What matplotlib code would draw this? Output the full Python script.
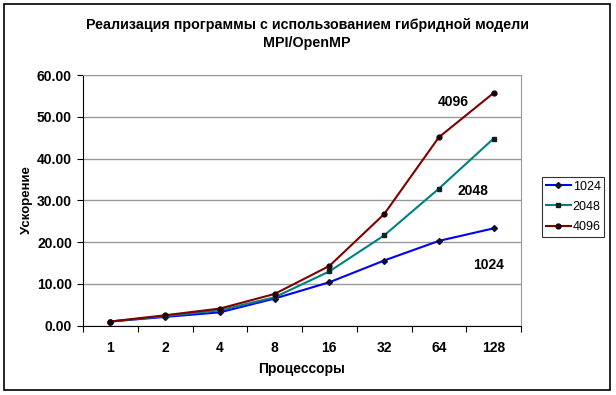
import matplotlib
matplotlib.use("Agg")
import matplotlib.pyplot as plt
from matplotlib.patches import Rectangle

# Data
processors = ["1", "2", "4", "8", "16", "32", "64", "128"]
speedup_1024 = [1.0, 2.1, 3.2, 6.5, 10.4, 15.6, 20.3, 23.3]
speedup_2048 = [1.0, 2.3, 3.7, 6.8, 13.0, 21.6, 32.8, 44.8]
speedup_4096 = [1.0, 2.5, 4.1, 7.6, 14.3, 26.7, 45.1, 55.7]
series_names = ["1024", "2048", "4096"]

plt.rcParams["font.family"] = ["Liberation Sans", "DejaVu Sans"]

fig = plt.figure(figsize=(6.16, 3.95), dpi=100)
ax = fig.add_axes([83 / 616, 1 - 325.7 / 395, 438 / 616, 250.7 / 395])

# outer chart frame
fig.patches.append(Rectangle((4 / 616, 1 - 390 / 395), 606 / 616, 386 / 395,
                             transform=fig.transFigure, fill=False,
                             edgecolor="black", linewidth=1.2))

xs = [i + 0.5 for i in range(len(processors))]
ax.plot(xs, speedup_1024, color="#0000FF", lw=1.5, marker="D", ms=3,
        mfc="#101030", mec="#101030", label=series_names[0])
ax.plot(xs, speedup_2048, color="#008080", lw=1.5, marker="s", ms=3,
        mfc="#102020", mec="#102020", label=series_names[1])
ax.plot(xs, speedup_4096, color="#800000", lw=1.5, marker="o", ms=3.5,
        mfc="#200000", mec="#200000", label=series_names[2])

# series labels inside the plot
ax.text(6.76, 53.5, "4096", fontsize=10, fontweight="bold", ha="center", va="center")
ax.text(7.12, 32.3, "2048", fontsize=10, fontweight="bold", ha="center", va="center")
ax.text(7.40, 14.5, "1024", fontsize=10, fontweight="bold", ha="center", va="center")

ax.set_xlim(0, 8)
ax.set_ylim(0, 60)
ax.set_yticks(range(0, 61, 10))
ax.set_yticklabels([f"{v:.2f}" for v in range(0, 61, 10)])
ax.set_xticks(range(0, 9))
ax.set_xticklabels([])
ax.set_xticks(xs, minor=True)
ax.set_xticklabels(processors, minor=True)
ax.tick_params(axis="x", which="minor", length=0, pad=11)
ax.tick_params(axis="x", which="major", length=4, direction="out")
ax.tick_params(axis="y", length=4, direction="out", pad=4)
for lab in ax.get_xticklabels(minor=True) + ax.get_yticklabels():
    lab.set_fontsize(10)
    lab.set_fontweight("bold")

ax.grid(axis="y", color="#999999", linewidth=1)
ax.set_axisbelow(True)
ax.spines["top"].set_color("#999999")
ax.spines["right"].set_color("#999999")
ax.spines["left"].set_color("black")
ax.spines["bottom"].set_color("black")

ax.set_xlabel("Процессоры", fontsize=10, fontweight="bold", labelpad=5)
ax.set_ylabel("Ускорение", fontsize=9.5, fontweight="bold", labelpad=3)

fig.text(307 / 616, 1 - 25 / 395, "Реализация программы с использованием гибридной модели",
         fontsize=10.3, fontweight="bold", ha="center", va="center")
fig.text(307 / 616, 1 - 43 / 395, "MPI/OpenMP",
         fontsize=10.3, fontweight="bold", ha="center", va="center")

leg = ax.legend(loc="upper left", bbox_to_anchor=(542 / 616, 1 - 177 / 395),
                bbox_transform=fig.transFigure, fontsize=9, frameon=True,
                fancybox=False, edgecolor="black", handlelength=2.0,
                borderpad=0.3, labelspacing=0.65, handletextpad=0.15,
                borderaxespad=0)
leg.get_frame().set_linewidth(0.8)

fig.savefig("out.png", dpi=100)
